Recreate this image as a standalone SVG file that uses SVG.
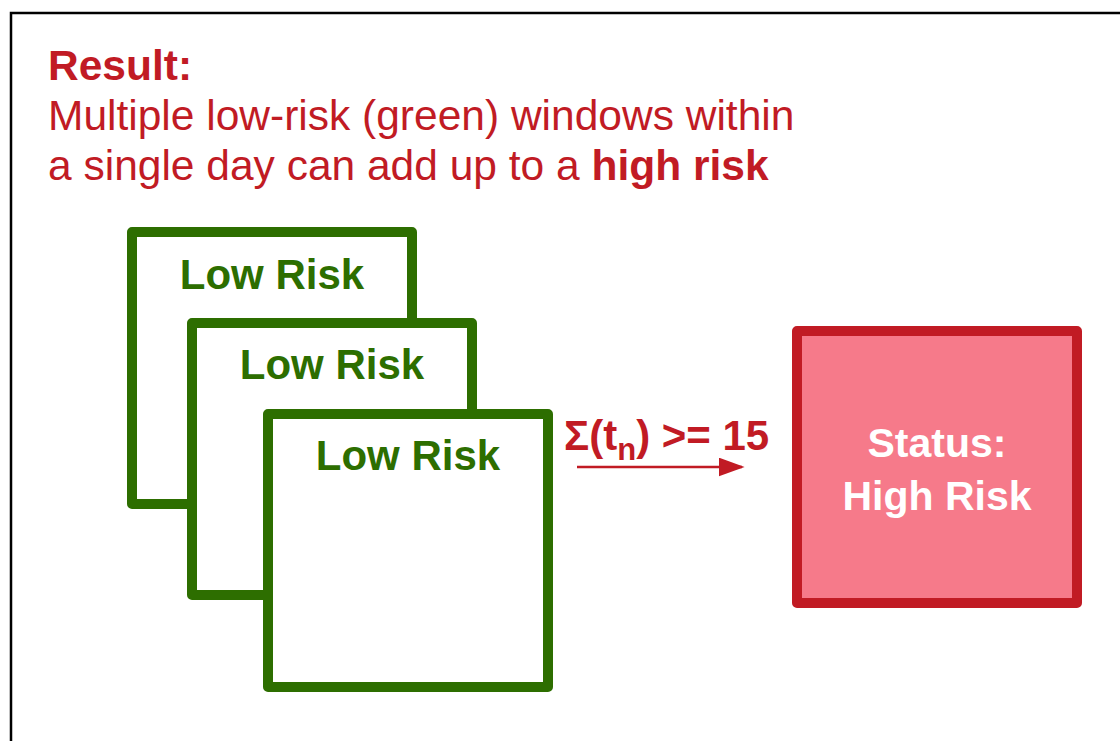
<svg xmlns="http://www.w3.org/2000/svg" width="1120" height="741" viewBox="0 0 1120 741">
<style>
.frame{fill:#fff;stroke:#000;stroke-width:2.5}
.low{fill:#fff;stroke:#2d6e00;stroke-width:10;stroke-linejoin:round}
.lowt{font-family:"Liberation Sans",Arial,sans-serif;font-weight:bold;font-size:42px;fill:#2d6e00;text-anchor:middle}
.t{font-family:"Liberation Sans",Arial,sans-serif;font-size:42.5px;fill:#c11b24}
.b{font-weight:bold}
.high{fill:#f67a8a;stroke:#c11b24;stroke-width:10;stroke-linejoin:round}
.hight{font-family:"Liberation Sans",Arial,sans-serif;font-weight:bold;font-size:41px;fill:#fff;text-anchor:middle}
.conn{stroke:#c11b24;stroke-width:2.5;fill:none}
</style>
<defs>
<marker id="ah" viewBox="0 0 10 10" refX="9" refY="5" markerWidth="26" markerHeight="19" markerUnits="userSpaceOnUse" orient="auto" preserveAspectRatio="none">
<path d="M0,0 L10,5 L0,10 z" fill="#c11b24"/>
</marker>
</defs>
<rect class="frame" x="11" y="13" width="1125" height="745"/>
<g id="title">
<text class="t b" x="48" y="80">Result:</text>
<text class="t" x="48" y="130">Multiple low-risk (green) windows within</text>
<text class="t" x="48" y="180">a single day can add up to a <tspan class="b">high risk</tspan></text>
</g>
<g id="low1">
<rect class="low" x="132" y="232" width="280" height="272"/>
<text class="lowt" x="272" y="289">Low Risk</text>
</g>
<g id="low2">
<rect class="low" x="192" y="323" width="280" height="272"/>
<text class="lowt" x="332" y="379">Low Risk</text>
</g>
<g id="low3">
<rect class="low" x="268" y="414" width="280" height="273"/>
<text class="lowt" x="408" y="470">Low Risk</text>
</g>
<g id="high">
<rect class="high" x="797" y="331" width="280" height="272"/>
<text class="hight" x="937" y="457">Status:</text>
<text class="hight" x="937" y="510">High Risk</text>
</g>
<g id="connectors">
<line class="conn" x1="577" y1="467" x2="742" y2="467" marker-end="url(#ah)"/>
<text class="t b" x="564" y="450" style="font-size:42px">Σ(t<tspan style="font-size:31px" dy="10">n</tspan><tspan dy="-10">) &gt;= 15</tspan></text>
</g>
</svg>
